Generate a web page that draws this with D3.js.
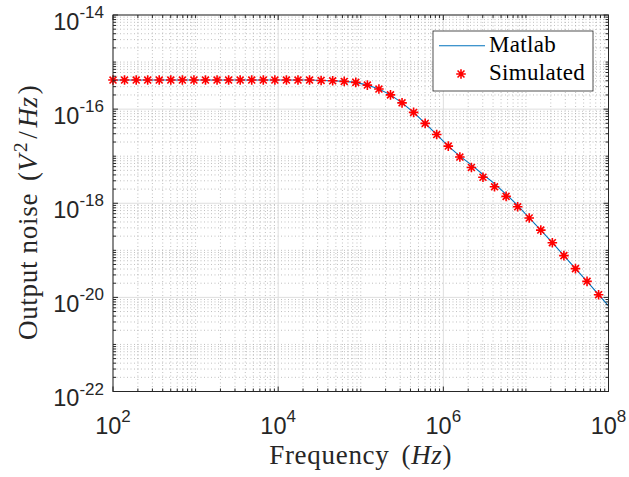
<!DOCTYPE html>
<html>
<head>
<meta charset="utf-8">
<script src="https://cdn.jsdelivr.net/npm/d3@7"></script>
<style>
  body { margin: 0; background: #fff; }
  svg { display: block; }
</style>
</head>
<body>
<svg id="chart" width="629" height="477"></svg>
<script>
// simulated points (Hz)
const freqHz = [100, 138, 191, 263, 363, 501, 692, 955, 1318, 1820, 2512, 3467, 4786, 6607, 9120,
  12589, 17378, 23988, 33113, 45709, 63096, 87096, 120226, 165959, 229087, 316228, 436516,
  602560, 831764, 1.148e6, 1.585e6, 2.188e6, 3.020e6, 4.169e6, 5.754e6, 7.943e6, 1.096e7,
  1.514e7, 2.089e7, 2.884e7, 3.981e7, 5.495e7, 7.586e7];

const simNoise = [4.15e-16, 4.15e-16, 4.15e-16, 4.15e-16, 4.15e-16, 4.15e-16, 4.15e-16, 4.15e-16,
  4.15e-16, 4.15e-16, 4.15e-16, 4.15e-16, 4.15e-16, 4.15e-16, 4.15e-16, 4.15e-16, 4.15e-16,
  4.15e-16, 4.07e-16, 4.00e-16, 3.88e-16, 3.70e-16, 3.24e-16, 2.67e-16, 2.01e-16, 1.36e-16,
  8.51e-17, 4.97e-17, 2.88e-17, 1.64e-17, 9.59e-18, 5.75e-18, 3.57e-18, 2.24e-18, 1.40e-18,
  8.41e-19, 4.86e-19, 2.69e-19, 1.45e-19, 7.71e-20, 4.08e-20, 2.19e-20, 1.14e-20];

// matlab curve
const matlabHz = [100, 138, 191, 263, 363, 501, 692, 955, 1318, 1820, 2512, 3467, 4786, 6607, 9120,
  12589, 17378, 23988, 33113, 45709, 63096, 87096, 120226, 165959, 229087, 316228, 436516,
  602560, 831764, 1.148e6, 1.585e6, 2.188e6, 3.020e6, 4.169e6, 5.754e6, 7.943e6, 1.096e7,
  1.514e7, 2.089e7, 2.884e7, 3.981e7, 5.495e7, 7.586e7, 1e8];

const matlabNoise = [4.15e-16, 4.15e-16, 4.15e-16, 4.15e-16, 4.15e-16, 4.15e-16, 4.15e-16, 4.15e-16,
  4.15e-16, 4.15e-16, 4.15e-16, 4.15e-16, 4.15e-16, 4.15e-16, 4.15e-16, 4.15e-16, 4.15e-16,
  4.15e-16, 4.07e-16, 4.00e-16, 3.88e-16, 3.70e-16, 3.24e-16, 2.67e-16, 2.01e-16, 1.36e-16,
  8.51e-17, 4.97e-17, 2.88e-17, 1.64e-17, 1.00e-17, 6.53e-18, 4.08e-18, 2.62e-18, 1.55e-18,
  9.06e-19, 4.86e-19, 2.69e-19, 1.45e-19, 7.71e-20, 4.08e-20, 2.19e-20, 1.14e-20, 6.6e-21];

const xTickExp = [2, 4, 6, 8];
const yTickExp = [-22, -20, -18, -16, -14];
const legendLabels = ["Matlab", "Simulated"];

const margin = { top: 15, right: 20.5, bottom: 85.5, left: 113 };
const W = 629 - margin.left - margin.right;
const H = 477 - margin.top - margin.bottom;
const axisColor = "#262626";

const svg = d3.select("#chart");
const g = svg.append("g").attr("transform", `translate(${margin.left},${margin.top})`);

const x = d3.scaleLog().domain([1e2, 1e8]).range([0, W]);
const y = d3.scaleLog().domain([1e-22, 1e-14]).range([H, 0]);

const isMajor = (v, exps) => {
  const e = Math.log10(v);
  return Math.abs(e - Math.round(e)) < 1e-9 && exps.includes(Math.round(e));
};

const xt = x.ticks();
const yt = y.ticks();

// grid
const grid = g.append("g");
grid.selectAll(".xminor")
  .data(xt.filter(v => !isMajor(v, xTickExp)))
  .join("line")
  .attr("x1", d => x(d)).attr("x2", d => x(d))
  .attr("y1", 0).attr("y2", H)
  .attr("stroke", "#b0b0b0").attr("stroke-width", 0.8)
  .attr("stroke-dasharray", "1,2.5");
grid.selectAll(".yminor")
  .data(yt.filter(v => !isMajor(v, yTickExp)))
  .join("line")
  .attr("y1", d => y(d)).attr("y2", d => y(d))
  .attr("x1", 0).attr("x2", W)
  .attr("stroke", "#b0b0b0").attr("stroke-width", 0.8)
  .attr("stroke-dasharray", "1,2.5");
grid.selectAll(".xmajor")
  .data(xTickExp.map(e => Math.pow(10, e)))
  .join("line")
  .attr("x1", d => x(d)).attr("x2", d => x(d))
  .attr("y1", 0).attr("y2", H)
  .attr("stroke", "#dedede").attr("stroke-width", 1);
grid.selectAll(".ymajor")
  .data(yTickExp.map(e => Math.pow(10, e)))
  .join("line")
  .attr("y1", d => y(d)).attr("y2", d => y(d))
  .attr("x1", 0).attr("x2", W)
  .attr("stroke", "#dedede").attr("stroke-width", 1);

// matlab line
const line = d3.line()
  .x((d, i) => x(matlabHz[i]))
  .y(d => y(d));
g.append("path")
  .datum(matlabNoise)
  .attr("fill", "none")
  .attr("stroke", "#0072BD")
  .attr("stroke-width", 1.1)
  .attr("d", line);

// asterisk marker
function star(s) {
  const d = s * 0.72;
  return `M${-s},0L${s},0M0,${-s}L0,${s}M${-d},${-d}L${d},${d}M${-d},${d}L${d},${-d}`;
}
g.selectAll(".sim")
  .data(simNoise)
  .join("path")
  .attr("transform", (d, i) => `translate(${x(freqHz[i])},${y(d)})`)
  .attr("d", star(4.8))
  .attr("stroke", "#ff0000")
  .attr("stroke-width", 1.6)
  .attr("fill", "none");

// box and ticks
g.append("rect")
  .attr("width", W).attr("height", H)
  .attr("fill", "none").attr("stroke", axisColor).attr("stroke-width", 1);

const ticks = g.append("g").attr("stroke", axisColor).attr("stroke-width", 1);
xt.forEach(v => {
  const L = isMajor(v, xTickExp) ? 5 : 3;
  const px = x(v);
  ticks.append("line").attr("x1", px).attr("x2", px).attr("y1", H).attr("y2", H - L);
  ticks.append("line").attr("x1", px).attr("x2", px).attr("y1", 0).attr("y2", L);
});
yt.forEach(v => {
  const L = isMajor(v, yTickExp) ? 5 : 3;
  const py = y(v);
  ticks.append("line").attr("y1", py).attr("y2", py).attr("x1", 0).attr("x2", L);
  ticks.append("line").attr("y1", py).attr("y2", py).attr("x1", W).attr("x2", W - L);
});

// tick labels
const sans = "'Liberation Sans', Arial, Helvetica, sans-serif";
g.selectAll(".xlab")
  .data(xTickExp)
  .join("text")
  .attr("x", d => x(Math.pow(10, d)))
  .attr("y", H + 42.5)
  .attr("text-anchor", "middle")
  .attr("font-family", sans)
  .attr("fill", axisColor)
  .each(function (d) {
    const t = d3.select(this);
    t.append("tspan").attr("font-size", 23.5).text("10");
    t.append("tspan").attr("font-size", 17).attr("dy", -12).text(d);
  });

g.selectAll(".ylab")
  .data(yTickExp)
  .join("text")
  .attr("x", -9)
  .attr("y", d => y(Math.pow(10, d)) + 14.5)
  .attr("text-anchor", "end")
  .attr("font-family", sans)
  .attr("fill", axisColor)
  .each(function (d) {
    const t = d3.select(this);
    t.append("tspan").attr("font-size", 23.5).text("10");
    t.append("tspan").attr("font-size", 17).attr("dy", -11.5).text(d);
  });

// axis titles
const serif = "'Liberation Serif', 'Times New Roman', serif";
const xt2 = svg.append("text")
  .attr("x", margin.left + W / 2)
  .attr("y", 464)
  .attr("text-anchor", "middle")
  .attr("font-family", serif)
  .attr("font-size", 27)
  .attr("letter-spacing", 0.7)
  .attr("fill", axisColor);
xt2.append("tspan").text("Frequency");
xt2.append("tspan").attr("dx", 12).text("(");
xt2.append("tspan").attr("font-style", "italic").text("Hz");
xt2.append("tspan").text(")");

const yt2 = svg.append("text")
  .attr("transform", `translate(37,${margin.top + H / 2 + 9}) rotate(-90)`)
  .attr("text-anchor", "middle")
  .attr("font-family", serif)
  .attr("font-size", 27)
  .attr("letter-spacing", 0.7)
  .attr("fill", axisColor);
yt2.append("tspan").text("Output noise");
yt2.append("tspan").attr("dx", 12).text("(");
yt2.append("tspan").attr("font-style", "italic").text("V");
yt2.append("tspan").attr("font-size", 19).attr("dy", -10).attr("dx", 2).text("2");
yt2.append("tspan").attr("dy", 10).attr("dx", 3).text("/");
yt2.append("tspan").attr("font-style", "italic").attr("dx", 3).text("Hz");
yt2.append("tspan").attr("dx", 2).text(")");

// legend
const leg = svg.append("g").attr("transform", "translate(433,31)");
leg.append("rect")
  .attr("width", 160).attr("height", 60)
  .attr("fill", "#fff").attr("stroke", axisColor).attr("stroke-width", 0.8);
leg.append("line")
  .attr("x1", 6).attr("x2", 52).attr("y1", 14.7).attr("y2", 14.7)
  .attr("stroke", "#0072BD").attr("stroke-width", 1.1);
leg.append("path")
  .attr("transform", "translate(28,43)")
  .attr("d", star(4.8))
  .attr("stroke", "#ff0000").attr("stroke-width", 1.6).attr("fill", "none");
leg.selectAll(".lt")
  .data(legendLabels)
  .join("text")
  .attr("x", 56)
  .attr("y", (d, i) => 21.3 + i * 28)
  .attr("font-family", serif)
  .attr("font-size", 23)
  .attr("letter-spacing", 0.3)
  .attr("fill", "#000")
  .text(d => d);
</script>
</body>
</html>
